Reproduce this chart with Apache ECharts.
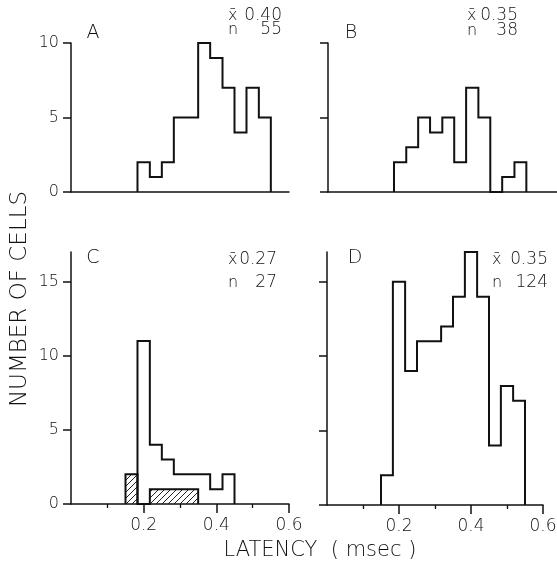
<!DOCTYPE html>
<html>
<head>
<meta charset="utf-8">
<script src="https://cdn.jsdelivr.net/npm/echarts@6/dist/echarts.min.js"></script>
<style>
html,body{margin:0;padding:0;background:#fff;}
#chart{width:557px;height:569px;}
</style>
</head>
<body>
<div id="chart"></div>
<script>
// Histogram bin edges (latency, msec)
const binEdges = [0.150, 0.183, 0.217, 0.250, 0.283, 0.317, 0.350, 0.383, 0.417, 0.450, 0.483, 0.517, 0.550];
// Counts per bin (number of cells)
const countsA = [0, 2, 1, 2, 5, 5, 10, 9, 7, 4, 7, 5];
const countsB = [0, 2, 3, 5, 4, 5, 2, 7, 5, 0, 1, 2];
const countsC = [0, 11, 4, 3, 2, 2, 2, 1, 2, 0, 0, 0];
const countsCHatched = [2, 0, 1, 1, 1, 1, 0, 0, 0, 0, 0, 0];
const countsD = [2, 15, 9, 11, 11, 12, 14, 17, 14, 4, 8, 7];
// Panel annotations
const panelLetters = ['A', 'B', 'C', 'D'];
const panelMeans = ['0.40', '0.35', '0.27', '0.35'];
const panelN = ['55', '38', '27', '124'];
// Tick labels
const yTicksTop = [0, 5, 10];
const yTicksBottom = [0, 5, 10, 15];
const xMajorTicks = [0.2, 0.4, 0.6];
const xMinorTicks = [0.1, 0.3, 0.5];
const yAxisTitle = 'NUMBER OF CELLS';
const xAxisTitle = 'LATENCY  ( msec )';

const INK = '#111';
const FONT = '"DejaVu Sans ExtraLight", "DejaVu Sans", sans-serif';
const WEIGHT = 200;

function outline(counts) {
  let first = counts.findIndex(v => v > 0);
  let last = counts.length - 1;
  while (last >= 0 && counts[last] === 0) last--;
  const pts = [[binEdges[first], 0]];
  for (let i = first; i <= last; i++) {
    pts.push([binEdges[i], counts[i]]);
    pts.push([binEdges[i + 1], counts[i]]);
  }
  pts.push([binEdges[last + 1], 0]);
  return pts;
}

function hatchPattern() {
  const s = 6;
  const c = document.createElement('canvas');
  c.width = s; c.height = s;
  const g = c.getContext('2d');
  g.strokeStyle = '#222';
  g.lineWidth = 1;
  g.beginPath();
  g.moveTo(0, s); g.lineTo(s, 0);
  g.moveTo(-1, 1); g.lineTo(1, -1);
  g.moveTo(s - 1, s + 1); g.lineTo(s + 1, s - 1);
  g.stroke();
  return c;
}
const pattern = hatchPattern();

const grids = [
  { left: 71, top: 43, width: 218, height: 149 },
  { left: 328, top: 43, width: 229, height: 149 },
  { left: 71, top: 252, width: 218, height: 252 },
  { left: 327, top: 252, width: 216, height: 253 }
].map(g => Object.assign({ outerBoundsMode: 'none', containLabel: false }, g));

const axisLine = { show: true, onZero: false, lineStyle: { color: INK, width: 1.5 } };

function xAxisMain(gi, max, ticks) {
  return {
    type: 'value', gridIndex: gi, min: 0, max: max, position: 'bottom',
    axisLine: axisLine,
    splitLine: { show: false },
    axisTick: ticks ? { show: true, customValues: xMajorTicks, length: 9, lineStyle: { color: INK, width: 1.5 } } : { show: false },
    axisLabel: ticks ? { show: true, customValues: xMajorTicks, formatter: v => v.toFixed(1), margin: 13, fontSize: 17, fontWeight: WEIGHT, color: INK, fontFamily: FONT } : { show: false }
  };
}
function xAxisMinor(gi, max) {
  return {
    type: 'value', gridIndex: gi, min: 0, max: max, position: 'bottom',
    axisLine: { show: false, onZero: false },
    splitLine: { show: false },
    axisTick: { show: true, customValues: xMinorTicks, length: 4, lineStyle: { color: INK, width: 1.3 } },
    axisLabel: { show: false }
  };
}
function yAxis(gi, max, ticks, labels) {
  return {
    type: 'value', gridIndex: gi, min: 0, max: max,
    axisLine: axisLine,
    splitLine: { show: false },
    axisTick: { show: true, customValues: ticks, length: 8, lineStyle: { color: INK, width: 1.5 } },
    axisLabel: labels ? { show: true, customValues: ticks, margin: 12, fontSize: 16, fontWeight: WEIGHT, color: INK, fontFamily: FONT } : { show: false }
  };
}

const xAxes = [
  xAxisMain(0, 0.6, false),
  xAxisMain(1, 0.635, false),
  xAxisMain(2, 0.6, true),
  xAxisMain(3, 0.6, true),
  xAxisMinor(2, 0.6),
  xAxisMinor(3, 0.6)
];
const yAxes = [
  yAxis(0, 10, yTicksTop, true),
  yAxis(1, 10, yTicksTop, false),
  yAxis(2, 17, yTicksBottom, true),
  yAxis(3, 17, yTicksBottom, false)
];

function histLine(counts, idx) {
  return {
    type: 'line', xAxisIndex: idx, yAxisIndex: idx,
    data: outline(counts), symbol: 'none', animation: false, z: 5,
    lineStyle: { color: INK, width: 2, join: 'miter' }
  };
}

const hatchData = [];
countsCHatched.forEach((v, i) => { if (v > 0) hatchData.push([binEdges[i], binEdges[i + 1], v]); });

const series = [
  histLine(countsA, 0),
  histLine(countsB, 1),
  {
    type: 'custom', xAxisIndex: 2, yAxisIndex: 2, data: hatchData, animation: false, z: 3,
    renderItem: function (params, api) {
      const p0 = api.coord([api.value(0), api.value(2)]);
      const p1 = api.coord([api.value(1), 0]);
      return {
        type: 'rect',
        shape: { x: p0[0], y: p0[1], width: p1[0] - p0[0], height: p1[1] - p0[1] },
        style: { fill: { image: pattern, repeat: 'repeat' }, stroke: null }
      };
    }
  },
  histLine(countsCHatched, 2),
  histLine(countsC, 2),
  histLine(countsD, 3)
];

// annotation positions per panel
const letterPos = [[93, 33], [351, 33], [93, 258], [355, 258]];
const statX = [[228, 282], [467, 518], [228, 277], [492, 548]];
const statY = [[16, 30], [16, 31], [260, 283], [260, 283]];

const graphic = [];
function txt(x, y, text, size, align, extra) {
  graphic.push(Object.assign({
    type: 'text', x: x, y: y, silent: true,
    style: { text: text, font: WEIGHT + ' ' + size + 'px ' + FONT, fill: INK, align: align, textAlign: align, verticalAlign: 'middle', textVerticalAlign: 'middle' }
  }, extra || {}));
}
for (let i = 0; i < 4; i++) {
  txt(letterPos[i][0], letterPos[i][1], panelLetters[i], 19, 'center');
  txt(statX[i][0], statY[i][0], 'x\u0304', 16, 'left');
  txt(statX[i][1], statY[i][0], panelMeans[i], 17, 'right');
  txt(statX[i][0], statY[i][1], 'n', 16, 'left');
  txt(statX[i][1], statY[i][1], panelN[i], 17, 'right');
}
txt(20, 299, yAxisTitle, 23, 'center', { rotation: Math.PI / 2 });
txt(320, 551, xAxisTitle, 21, 'center');

const chart = echarts.init(document.getElementById('chart'), null, { renderer: 'canvas' });
chart.setOption({
  animation: false,
  backgroundColor: '#fff',
  grid: grids,
  xAxis: xAxes,
  yAxis: yAxes,
  series: series,
  graphic: graphic
});
</script>
</body>
</html>
